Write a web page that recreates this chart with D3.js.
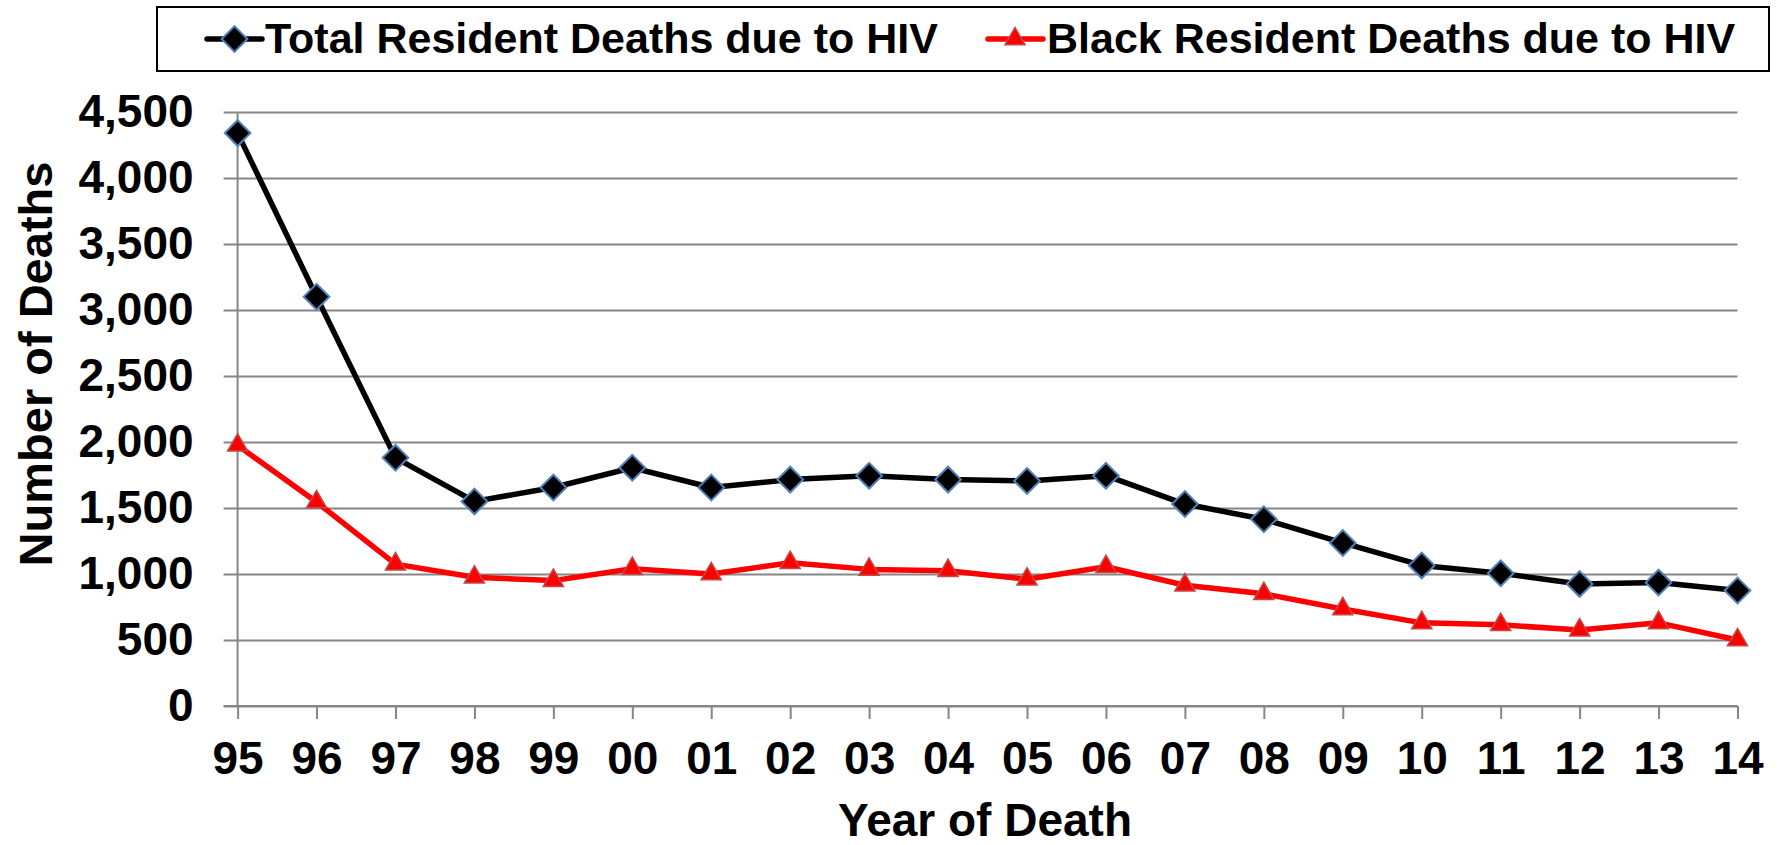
<!DOCTYPE html>
<html>
<head>
<meta charset="utf-8">
<script src="https://cdn.jsdelivr.net/npm/d3@7"></script>
<style>
  html, body { margin: 0; padding: 0; background: #fff; }
  svg { display: block; font-family: "Liberation Sans", Arial, sans-serif; font-weight: bold; }
</style>
</head>
<body>
<svg id="chart" width="1783" height="845"></svg>
<script>
// Year of death (two-digit labels)
const years = ["95","96","97","98","99","00","01","02","03","04","05","06","07","08","09","10","11","12","13","14"];
// Resident deaths due to HIV, all residents
const totalDeaths = [4340, 3100, 1880, 1550, 1655, 1805, 1655, 1715, 1745, 1715, 1705, 1745, 1530, 1415, 1235, 1065, 1005, 925, 935, 875];
// Resident deaths due to HIV, Black residents
const blackDeaths = [1975, 1545, 1075, 975, 950, 1040, 1000, 1085, 1035, 1025, 960, 1055, 915, 850, 735, 630, 615, 575, 630, 500];
// Value axis ticks
const yTicks = [0, 500, 1000, 1500, 2000, 2500, 3000, 3500, 4000, 4500];

const seriesNames = ["Total Resident Deaths due to HIV", "Black Resident Deaths due to HIV"];

const svg = d3.select("#chart");
const plotLeft = 237.6, plotRight = 1737.5, plotTop = 112, plotBottom = 706;
const gridColor = "#868686";

const x = d3.scalePoint().domain(years).range([plotLeft, plotRight]);
const y = d3.scaleLinear().domain([0, 4500]).range([plotBottom, plotTop]);

// Horizontal gridlines + y tick labels
const yAxis = svg.append("g")
  .attr("transform", `translate(${plotLeft},0)`)
  .call(d3.axisLeft(y).tickValues(yTicks).tickFormat(d3.format(",")).tickSize(-(plotRight - plotLeft)).tickPadding(44));
yAxis.select(".domain").remove();
yAxis.selectAll(".tick line").attr("x1", -14).attr("stroke", gridColor).attr("stroke-width", 2);
yAxis.selectAll(".tick text").attr("font-size", 46).attr("fill", "#000")
  .style("font-family", "'Liberation Sans', Arial, sans-serif").style("font-weight", "bold");

// Vertical value axis line
svg.append("line")
  .attr("x1", plotLeft).attr("x2", plotLeft).attr("y1", plotTop).attr("y2", plotBottom)
  .attr("stroke", gridColor).attr("stroke-width", 2);

// Category axis
const xAxis = svg.append("g")
  .attr("transform", `translate(0,${plotBottom})`)
  .call(d3.axisBottom(x).tickSize(13).tickSizeOuter(0).tickPadding(22));
xAxis.select(".domain").attr("stroke", gridColor).attr("stroke-width", 2)
  .attr("d", `M${plotLeft - 14},0H${plotRight}`);
xAxis.selectAll(".tick line").attr("stroke", gridColor).attr("stroke-width", 2);
xAxis.selectAll(".tick text").attr("font-size", 46).attr("fill", "#000")
  .style("font-family", "'Liberation Sans', Arial, sans-serif").style("font-weight", "bold");

// Axis titles
svg.append("text")
  .attr("x", 985).attr("y", 836)
  .attr("text-anchor", "middle").attr("font-size", 46).attr("fill", "#000")
  .text("Year of Death");
svg.append("text")
  .attr("transform", "translate(52,364) rotate(-90)")
  .attr("text-anchor", "middle").attr("font-size", 47).attr("fill", "#000")
  .text("Number of Deaths");

// Series lines
const line = d3.line().x((d, i) => x(years[i])).y(d => y(d));
svg.append("path").datum(totalDeaths)
  .attr("d", line).attr("fill", "none").attr("stroke", "#000").attr("stroke-width", 5.5)
  .attr("stroke-linejoin", "round");
svg.append("path").datum(blackDeaths)
  .attr("d", line).attr("fill", "none").attr("stroke", "#FF0000").attr("stroke-width", 5.5)
  .attr("stroke-linejoin", "round");

// Markers
const diamond = d3.symbol(d3.symbolSquare, 330)();
const triangle = d3.symbol(d3.symbolTriangle, 175)();

function drawDiamond(g, cx, cy) {
  g.append("path").attr("d", diamond)
    .attr("transform", `translate(${cx},${cy}) rotate(45)`)
    .attr("fill", "#000").attr("stroke", "#4F81BD").attr("stroke-width", 2);
}
function drawTriangle(g, cx, cy) {
  g.append("path").attr("d", triangle)
    .attr("transform", `translate(${cx},${cy})`)
    .attr("fill", "#FF0000").attr("stroke", "#BE4B48").attr("stroke-width", 1.5);
}

const markers = svg.append("g");
totalDeaths.forEach((v, i) => drawDiamond(markers, x(years[i]), y(v)));
blackDeaths.forEach((v, i) => drawTriangle(markers, x(years[i]), y(v)));

// Legend
const legend = svg.append("g");
legend.append("rect")
  .attr("x", 157).attr("y", 7).attr("width", 1612).attr("height", 64)
  .attr("fill", "#fff").attr("stroke", "#000").attr("stroke-width", 2);

const legendY = 39;
legend.append("line").attr("x1", 207).attr("x2", 262).attr("y1", legendY).attr("y2", legendY)
  .attr("stroke", "#000").attr("stroke-width", 5.5).attr("stroke-linecap", "round");
drawDiamond(legend, 234.5, legendY);
legend.append("text").attr("x", 265).attr("y", 53).attr("font-size", 43).attr("fill", "#000")
  .text(seriesNames[0]);

legend.append("line").attr("x1", 988).attr("x2", 1043).attr("y1", legendY).attr("y2", legendY)
  .attr("stroke", "#FF0000").attr("stroke-width", 5.5).attr("stroke-linecap", "round");
drawTriangle(legend, 1015, legendY);
legend.append("text").attr("x", 1047).attr("y", 53).attr("font-size", 43).attr("fill", "#000")
  .text(seriesNames[1]);
</script>
</body>
</html>
